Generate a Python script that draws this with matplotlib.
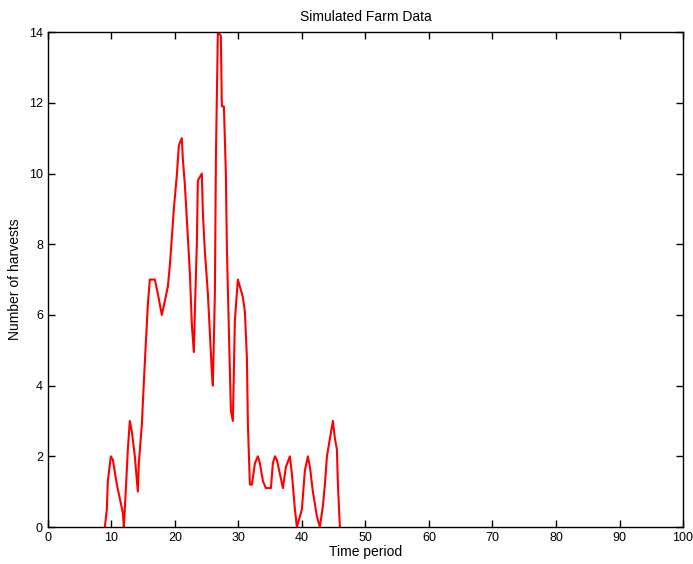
import matplotlib
matplotlib.use("Agg")
import matplotlib.pyplot as plt

time_period = [8.98, 9.29, 9.45, 9.92, 10.24, 10.55, 10.87, 11.34, 11.81, 11.97,
               12.28, 12.60, 12.91, 13.23, 13.70, 14.17, 14.33, 14.80, 15.12, 15.43,
               15.75, 16.06, 16.85, 17.32, 17.95, 18.43, 18.90, 19.21, 19.53, 19.84,
               20.31, 20.63, 21.10, 21.26, 21.57, 21.89, 22.36, 22.68, 22.99, 23.15,
               23.46, 23.62, 24.25, 24.41, 24.72, 25.20, 25.51, 25.83, 25.98, 26.30,
               26.46, 26.77, 27.24, 27.40, 27.72, 28.03, 28.19, 28.50, 28.82, 29.13,
               29.45, 29.92, 30.24, 30.71, 31.02, 31.34, 31.50, 31.81, 32.13, 32.60,
               33.07, 33.39, 33.86, 34.33, 35.12, 35.43, 35.75, 36.06, 36.54, 37.01,
               37.48, 38.11, 38.43, 38.90, 39.21, 39.69, 40.00, 40.47, 40.94, 41.26,
               41.73, 42.36, 42.83, 43.31, 43.62, 43.94, 44.41, 44.88, 45.20, 45.51,
               45.67, 45.98]
harvests = [0, 0.5, 1.3, 2.0, 1.9, 1.55, 1.2, 0.8, 0.4, 0,
            1.05, 2.2, 3.0, 2.7, 2.0, 1.0, 1.8, 2.9, 4.1, 5.2,
            6.3, 7.0, 7.0, 6.6, 6.0, 6.4, 6.8, 7.4, 8.2, 9.0,
            9.95, 10.8, 11.0, 10.4, 9.7, 8.7, 7.2, 5.7, 4.95, 6.1,
            8.0, 9.8, 10.0, 8.9, 7.8, 6.6, 5.5, 4.35, 4.0, 6.6,
            10.4, 14.0, 13.9, 11.9, 11.9, 10.0, 7.9, 5.6, 3.3, 3.0,
            5.85, 7.0, 6.8, 6.5, 6.1, 4.8, 2.9, 1.2, 1.2, 1.8,
            2.0, 1.8, 1.3, 1.1, 1.1, 1.8, 2.0, 1.9, 1.5, 1.1,
            1.7, 2.0, 1.5, 0.5, 0, 0.3, 0.5, 1.6, 2.0, 1.7,
            1.0, 0.3, 0, 0.6, 1.2, 2.0, 2.5, 3.0, 2.5, 2.2,
            1.2, 0]
x_ticks = list(range(0, 101, 10))
y_ticks = list(range(0, 15, 2))

plt.rcParams["font.family"] = ["Liberation Sans", "DejaVu Sans"]

fig = plt.figure(figsize=(6.93, 5.64), dpi=100)
ax = fig.add_axes([0.069, 0.0656, 0.9166, 0.8774])

ax.plot(time_period, harvests, color="red", linewidth=1.5)

ax.set_xlim(0, 100)
ax.set_ylim(0, 14)
ax.set_xticks(x_ticks)
ax.set_yticks(y_ticks)
ax.tick_params(direction="in", top=True, right=True, labelsize=9, length=5, width=1)
for s in ax.spines.values():
    s.set_linewidth(1)

ax.set_title("Simulated Farm Data", fontsize=10, pad=8)
ax.set_xlabel("Time period", fontsize=10, labelpad=1)
ax.set_ylabel("Number of harvests", fontsize=10, labelpad=5)

fig.savefig("out.png", dpi=100)
